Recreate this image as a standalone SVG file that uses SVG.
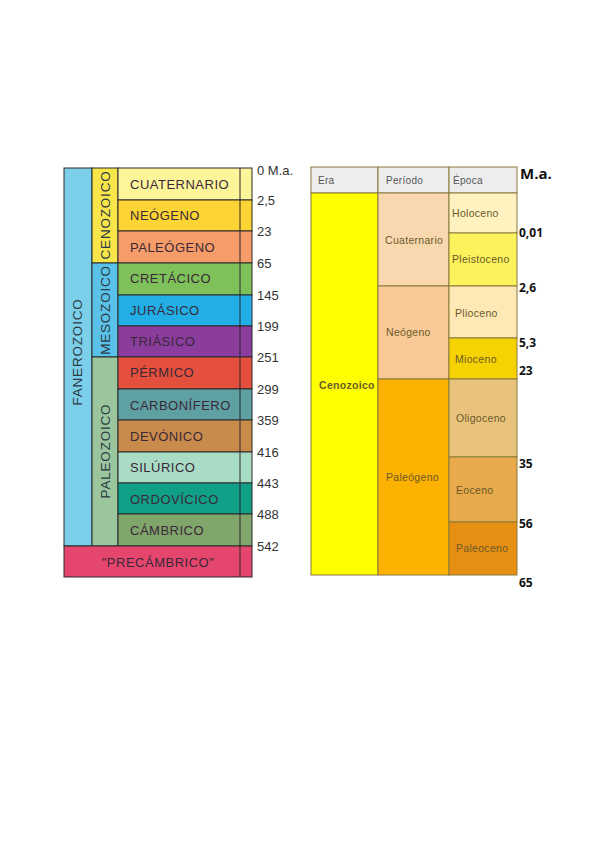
<svg xmlns="http://www.w3.org/2000/svg" width="600" height="848" viewBox="0 0 600 848">
<style>
.b{stroke:#2a2a2a;stroke-width:1}
.p{font-family:"Liberation Sans",Arial,sans-serif;font-size:13px;fill:#3a2838;letter-spacing:0.5px}
.v{font-family:"Liberation Sans",Arial,sans-serif;font-size:13.5px;fill:#2c3a44;letter-spacing:0.8px;text-anchor:middle}
.n{font-family:"Liberation Sans",Arial,sans-serif;font-size:13px;fill:#333}
.r{stroke:#8a7a3a;stroke-width:1}
.t{font-family:"Liberation Sans",Arial,sans-serif;font-size:10.5px;fill:#6a5a2a;letter-spacing:0.3px}
.h{font-family:"Liberation Sans",Arial,sans-serif;font-size:10px;fill:#555;letter-spacing:0.3px}
.m{font-family:"Open Sans","Liberation Sans",sans-serif;font-size:12px;font-weight:bold;fill:#111}
</style>
<rect width="600" height="848" fill="#fff"/>
<g id="left-chart">
<g id="fanerozoico"><rect class="b" x="64" y="168" width="28" height="378" fill="#7ccfe9"/><text class="v" transform="translate(82,352) rotate(-90)">FANEROZOICO</text></g>
<g id="cenozoico"><rect class="b" x="92" y="168" width="26" height="95" fill="#f7e54a"/><text class="v" transform="translate(110,215) rotate(-90)">CENOZOICO</text></g>
<g id="mesozoico"><rect class="b" x="92" y="263" width="26" height="94" fill="#5ac1e8"/><text class="v" transform="translate(110,310) rotate(-90)">MESOZOICO</text></g>
<g id="paleozoico"><rect class="b" x="92" y="357" width="26" height="189" fill="#9bc59c"/><text class="v" transform="translate(110,451) rotate(-90)">PALEOZOICO</text></g>
<g id="cuaternario"><rect class="b" x="118" y="168" width="134" height="32" fill="#fdf59a"/><text class="p" x="130" y="189">CUATERNARIO</text></g>
<g id="neogeno"><rect class="b" x="118" y="200" width="134" height="31" fill="#fcd433"/><text class="p" x="130" y="220">NEÓGENO</text></g>
<g id="paleogeno"><rect class="b" x="118" y="231" width="134" height="32" fill="#f59c68"/><text class="p" x="130" y="252">PALEÓGENO</text></g>
<g id="cretacico"><rect class="b" x="118" y="263" width="134" height="32" fill="#7ec15a"/><text class="p" x="130" y="283">CRETÁCICO</text></g>
<g id="jurasico"><rect class="b" x="118" y="295" width="134" height="31" fill="#22aee6"/><text class="p" x="130" y="315">JURÁSICO</text></g>
<g id="triasico"><rect class="b" x="118" y="326" width="134" height="31" fill="#8a3d9c"/><text class="p" x="130" y="346">TRIÁSICO</text></g>
<g id="permico"><rect class="b" x="118" y="357" width="134" height="32" fill="#e4503d"/><text class="p" x="130" y="377">PÉRMICO</text></g>
<g id="carbonifero"><rect class="b" x="118" y="389" width="134" height="31" fill="#5fa0a3"/><text class="p" x="130" y="410">CARBONÍFERO</text></g>
<g id="devonico"><rect class="b" x="118" y="420" width="134" height="32" fill="#c98b4b"/><text class="p" x="130" y="441">DEVÓNICO</text></g>
<g id="silurico"><rect class="b" x="118" y="452" width="134" height="31" fill="#a9dcc5"/><text class="p" x="130" y="472">SILÚRICO</text></g>
<g id="ordovicico"><rect class="b" x="118" y="483" width="134" height="31" fill="#10a087"/><text class="p" x="130" y="504">ORDOVÍCICO</text></g>
<g id="cambrico"><rect class="b" x="118" y="514" width="134" height="32" fill="#80a66b"/><text class="p" x="130" y="535">CÁMBRICO</text></g>
<g id="precambrico"><rect class="b" x="64" y="546" width="188" height="31" fill="#e4466e"/><text class="p" x="158" y="567" text-anchor="middle">"PRECÁMBRICO"</text></g>
<line class="b" x1="240" y1="168" x2="240" y2="577"/>
<g id="left-ages">
<text class="n" x="257" y="175">0 M.a.</text>
<text class="n" x="257" y="205">2,5</text>
<text class="n" x="257" y="236">23</text>
<text class="n" x="257" y="268">65</text>
<text class="n" x="257" y="300">145</text>
<text class="n" x="257" y="331">199</text>
<text class="n" x="257" y="362">251</text>
<text class="n" x="257" y="394">299</text>
<text class="n" x="257" y="425">359</text>
<text class="n" x="257" y="457">416</text>
<text class="n" x="257" y="488">443</text>
<text class="n" x="257" y="519">488</text>
<text class="n" x="257" y="551">542</text>
</g>
</g>
<g id="right-chart">
<g id="header">
<rect class="r" x="311" y="167" width="67" height="26" fill="#ededed"/>
<rect class="r" x="378" y="167" width="71" height="26" fill="#ededed"/>
<rect class="r" x="449" y="167" width="68" height="26" fill="#ededed"/>
<text class="h" x="318" y="184">Era</text>
<text class="h" x="386" y="184">Período</text>
<text class="h" x="453" y="184">Época</text>
</g>
<g id="era-cenozoico"><rect class="r" x="311" y="193" width="67" height="382" fill="#ffff00"/><text class="t" x="319" y="389" font-weight="bold" font-size="10px">Cenozoico</text></g>
<g id="p-cuaternario"><rect class="r" x="378" y="193" width="71" height="93" fill="#f9d8b0"/><text class="t" x="385" y="244">Cuaternario</text></g>
<g id="p-neogeno"><rect class="r" x="378" y="286" width="71" height="93" fill="#f8c996"/><text class="t" x="386" y="336">Neógeno</text></g>
<g id="p-paleogeno"><rect class="r" x="378" y="379" width="71" height="196" fill="#fdb100"/><text class="t" x="386" y="481">Paleógeno</text></g>
<g id="holoceno"><rect class="r" x="449" y="193" width="68" height="40" fill="#fdf2c0"/><text class="t" x="452" y="217">Holoceno</text></g>
<g id="pleistoceno"><rect class="r" x="449" y="233" width="68" height="53" fill="#fcf25c"/><text class="t" x="452" y="263">Pleistoceno</text></g>
<g id="plioceno"><rect class="r" x="449" y="286" width="68" height="52" fill="#fde8b6"/><text class="t" x="455" y="317">Plioceno</text></g>
<g id="mioceno"><rect class="r" x="449" y="338" width="68" height="41" fill="#f6d200"/><text class="t" x="455" y="363">Mioceno</text></g>
<g id="oligoceno"><rect class="r" x="449" y="379" width="68" height="78" fill="#e9c27b"/><text class="t" x="456" y="422">Oligoceno</text></g>
<g id="eoceno"><rect class="r" x="449" y="457" width="68" height="65" fill="#e8aa4a"/><text class="t" x="456" y="494">Eoceno</text></g>
<g id="paleoceno"><rect class="r" x="449" y="522" width="68" height="53" fill="#e68f12"/><text class="t" x="456" y="552">Paleoceno</text></g>
<g id="right-ages">
<text x="520" y="179" font-family="'Open Sans','Liberation Sans',sans-serif" font-size="15" font-weight="bold" fill="#111">M.a.</text>
<text class="m" x="519" y="237">0,01</text>
<text class="m" x="519" y="292">2,6</text>
<text class="m" x="519" y="347">5,3</text>
<text class="m" x="519" y="375">23</text>
<text class="m" x="519" y="468">35</text>
<text class="m" x="519" y="528">56</text>
<text class="m" x="519" y="587">65</text>
</g>
</g>
</svg>
